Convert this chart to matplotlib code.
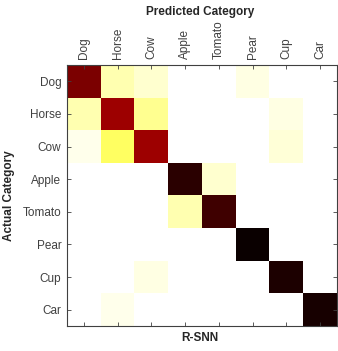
import numpy as np
import matplotlib
matplotlib.use("Agg")
import matplotlib.pyplot as plt

categories = ["Dog", "Horse", "Cow", "Apple", "Tomato", "Pear", "Cup", "Car"]

# confusion matrix, rows = actual, cols = predicted
dog = [0.83, 0.08, 0.05, 0.00, 0.00, 0.03, 0.00, 0.00]
horse = [0.08, 0.78, 0.11, 0.00, 0.00, 0.00, 0.03, 0.00]
cow = [0.02, 0.16, 0.78, 0.00, 0.00, 0.00, 0.04, 0.00]
apple = [0.00, 0.00, 0.00, 0.95, 0.05, 0.00, 0.00, 0.00]
tomato = [0.00, 0.00, 0.00, 0.08, 0.92, 0.00, 0.00, 0.00]
pear = [0.00, 0.00, 0.00, 0.00, 0.00, 1.00, 0.00, 0.00]
cup = [0.00, 0.00, 0.03, 0.00, 0.00, 0.00, 0.97, 0.00]
car = [0.00, 0.02, 0.00, 0.00, 0.00, 0.00, 0.00, 0.98]

conf = np.array([dog, horse, cow, apple, tomato, pear, cup, car])

plt.rcParams['font.family'] = ['Liberation Sans', 'DejaVu Sans']

fig = plt.figure(figsize=(3.38, 3.51), dpi=100)
ax = fig.add_axes([67/338, 1 - 326/351, 270/338, 261/351])

ax.imshow(conf, cmap='hot_r', vmin=0, vmax=1, aspect='auto',
          interpolation='nearest')

n = len(categories)
ax.set_xticks(range(n))
ax.set_yticks(range(n))
ax.set_xticklabels(categories, rotation=90, fontsize=8.5, color='#404040')
ax.set_yticklabels(categories, fontsize=8.5, color='#404040')
ax.xaxis.tick_top()
ax.tick_params(axis='both', direction='in', length=3, width=0.6,
               color='#404040', top=True, bottom=True, left=True, right=True,
               labeltop=True, labelbottom=False, pad=4)
for s in ax.spines.values():
    s.set_linewidth(0.8)
    s.set_color('#404040')

fig.text(200/338, 1 - 12/351, "Predicted Category", ha='center', va='center',
         fontsize=8.5, fontweight='bold', color='#262626')
fig.text(200/338, 1 - 338/351, "R-SNN", ha='center', va='center',
         fontsize=8.5, fontweight='bold', color='#262626')
fig.text(9/338, 1 - 196/351, "Actual Category", ha='center', va='center',
         rotation=90, fontsize=8.5, fontweight='bold', color='#262626')

fig.savefig("out.png", dpi=100)
